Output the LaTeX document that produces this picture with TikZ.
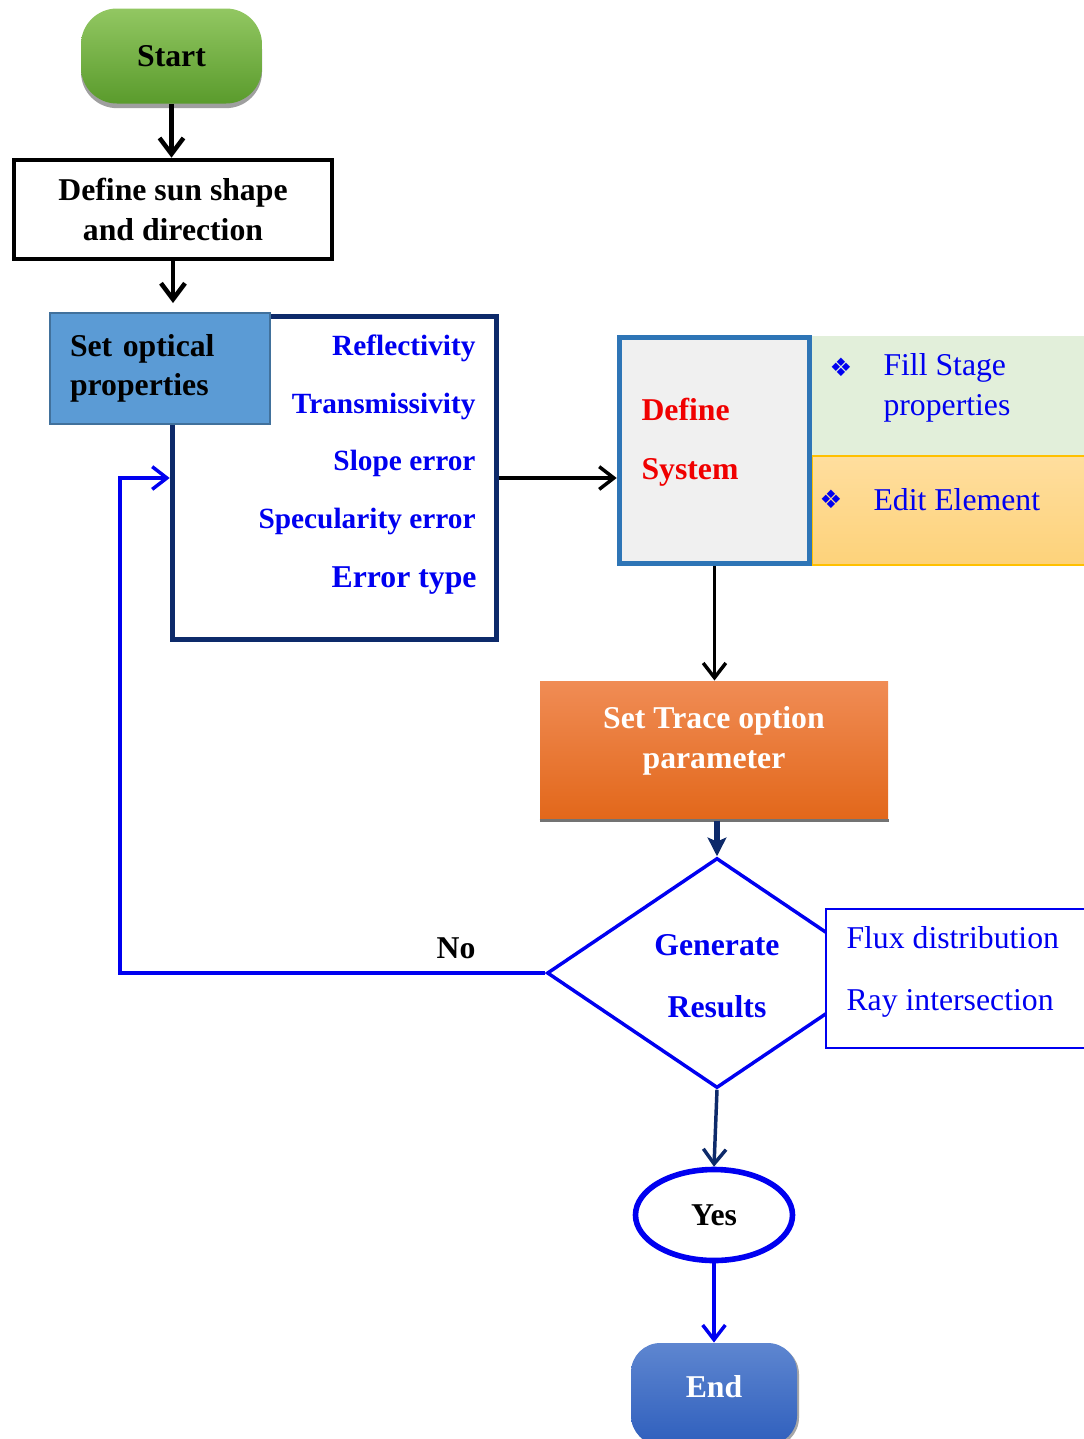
\documentclass[tikz,border=0pt]{standalone}
\usepackage{fontspec}
\setmainfont{Liberation Serif}
\newfontfamily\symfont{DejaVu Sans}
\usetikzlibrary{shapes.geometric,arrows.meta,shadows}

\definecolor{startgreenA}{HTML}{92C762}
\definecolor{startgreenB}{HTML}{5A9B2C}
\definecolor{opticalblue}{HTML}{5B9BD5}
\definecolor{opticaledge}{HTML}{41719C}
\definecolor{navy}{HTML}{0D2A6A}
\definecolor{systemedge}{HTML}{2E75B6}
\definecolor{systemfill}{HTML}{F0F0F0}
\definecolor{panelgreen}{HTML}{E2EFDA}
\definecolor{panelorangeA}{HTML}{FFDE9E}
\definecolor{panelorangeB}{HTML}{FDD27A}
\definecolor{panelgold}{HTML}{FFC000}
\definecolor{traceA}{HTML}{F08C55}
\definecolor{traceM}{HTML}{F27C2C}
\definecolor{traceB}{HTML}{E2671A}
\definecolor{endblueA}{HTML}{5E86D0}
\definecolor{endblueB}{HTML}{2F5FBD}
\definecolor{pureblue}{HTML}{0000F0}
\definecolor{redtext}{HTML}{F00000}

\tikzset{every picture/.style={line width=0.75pt}}

\begin{document}
\begin{tikzpicture}[
    x=0.75pt,
    y=0.75pt,
    yscale=-1,
    xscale=1,
    every node/.style={text=black},
    line width=0.75pt,
    boldtext/.style={font=\bfseries\fontsize{23.8}{29.5}\selectfont},
    itemtext/.style={font=\bfseries\fontsize{22}{27}\selectfont, text=pureblue, inner sep=0pt, anchor=base east},
    plaintext/.style={font=\fontsize{23.8}{29.5}\selectfont, text=pureblue, inner sep=0pt, anchor=base west},
    bulletmark/.style={font=\symfont\fontsize{19}{19}\selectfont, text=pureblue, inner sep=0pt},
    startnode/.style={rectangle, rounded corners=27pt, minimum width=135.75pt, minimum height=71.25pt, top color=startgreenA, bottom color=startgreenB, boldtext, drop shadow={shadow xshift=0pt, shadow yshift=-3.5pt, opacity=1, fill=gray!75}},
    sunbox/.style={rectangle, draw=black, line width=3.4pt, fill=white, minimum width=238.5pt, minimum height=74.25pt, align=center, boldtext},
    listbox/.style={rectangle, draw=navy, line width=4.2pt, fill=white, minimum width=243pt, minimum height=242.25pt},
    opticalbox/.style={rectangle, draw=opticaledge, line width=1.5pt, fill=opticalblue, minimum width=165pt, minimum height=83.25pt, text width=135pt, inner xsep=15pt, align=left, boldtext},
    panel/.style={rectangle, minimum width=208.5pt, inner sep=0pt},
    systembox/.style={rectangle, draw=systemedge, line width=4.2pt, fill=systemfill, minimum width=142.5pt, minimum height=169.5pt},
    redlabel/.style={boldtext, text=redtext, inner sep=0pt, anchor=base west},
    tracebox/.style={rectangle, minimum width=261pt, minimum height=104.25pt, top color=traceA, middle color=traceM, bottom color=traceB},
    decision/.style={diamond, draw=pureblue, line width=2.6pt, fill=white, minimum width=255pt, minimum height=172.5pt, inner sep=0pt},
    bluebold/.style={boldtext, text=pureblue, inner sep=0pt, anchor=base},
    fluxbox/.style={rectangle, draw=pureblue, line width=1.6pt, fill=white, minimum width=198pt, minimum height=104.25pt},
    yesnode/.style={ellipse, draw=pureblue, line width=4.2pt, fill=white, minimum width=117.75pt, minimum height=68.25pt, boldtext},
    endnode/.style={rectangle, rounded corners=22pt, minimum width=124.5pt, minimum height=76.5pt, top color=endblueA, bottom color=endblueB, drop shadow={shadow xshift=1.5pt, shadow yshift=-1.5pt, opacity=1, fill=gray!70}},
    thickarrow/.style={draw=black, line width=3.4pt, -{Straight Barb[length=12pt,width=18pt]}},
    blackarrow/.style={draw=black, line width=2.6pt, -{Straight Barb[length=11pt,width=17pt]}},
    navyarrow/.style={draw=navy, line width=4.2pt, -{Stealth[length=14pt,width=14pt,inset=3pt]}},
    navybarb/.style={draw=navy, line width=2.6pt, -{Straight Barb[length=11pt,width=17pt]}},
    bluearrow/.style={draw=pureblue, line width=2.6pt, -{Straight Barb[length=11pt,width=17pt]}}
]
    \fill[white] (0,0) rectangle (1083,1439);
    \useasboundingbox (0,0) rectangle (1083,1439);

    % start and sun
    \node[startnode] (start) at (171.5,56) {Start};
    \node[sunbox] (sun) at (173,209.5) {Define sun shape\\and direction};

    % optical properties
    \node[listbox] (props) at (334.5,478) {};
    \node[opticalbox] (optical) at (160,368.5) {Set optical\\properties};
    \node[itemtext] (refl) at (476,355) {Reflectivity};
    \node[itemtext] (trans) at (476,413) {Transmissivity};
    \node[itemtext] (slope) at (476,470) {Slope error};
    \node[itemtext] (specul) at (476,528) {Specularity error};
    \node[itemtext, font=\bfseries\fontsize{23.8}{29.5}\selectfont] (errtype) at (477,587) {Error type};

    % define system
    \node[panel, fill=panelgreen, minimum height=90pt] (stagepanel) at (951,396) {};
    \node[panel, top color=panelorangeA, bottom color=panelorangeB, draw=panelgold, line width=1.1pt, minimum height=81.75pt] (elempanel) at (951,510.5) {};
    \node[systembox] (system) at (714.5,450.5) {};
    \node[redlabel] (definetxt) at (641,420) {Define};
    \node[redlabel] (systemtxt) at (641,479) {System};
    \node[bulletmark] (bulletA) at (841,367) {❖};
    \node[bulletmark] (bulletB) at (831,499) {❖};
    \node[plaintext] (filltxt) at (883,375) {Fill Stage};
    \node[plaintext] (proptxt) at (883,415) {properties};
    \node[plaintext] (edittxt) at (873,510) {Edit Element};

    % trace
    \node[tracebox] (trace) at (714,750.5) {};
    \draw[gray!90!black, line width=2.25pt] (trace.south west) -- (trace.south east);
    \node[boldtext, text=white, align=center, inner sep=0pt] (tracetxt) at (714,741) {Set Trace option\\parameter};

    % results
    \node[decision] (decide) at (717,973) {};
    \node[bluebold] (gentxt) at (717,955) {Generate};
    \node[bluebold] (restxt) at (717,1017) {Results};
    \node[fluxbox] (flux) at (958,978.5) {};
    \node[plaintext] (fluxtxt) at (846,948) {Flux distribution};
    \node[plaintext] (raytxt) at (846,1010) {Ray intersection};
    \node[boldtext, inner sep=0pt, anchor=base] (notxt) at (456,958) {No};

    \node[yesnode] (yes) at (714,1215) {Yes};
    \node[endnode] (finish) at (714,1394) {};
    \node[boldtext, text=white, inner sep=0pt, anchor=base] (endtxt) at (714,1397) {End};

    % connectors
    \draw[thickarrow] (start.south) -- (start.south |- sun.north);
    \draw[thickarrow, shorten >=6.75pt] (sun.south) -- (sun.south |- optical.north);
    \draw[blackarrow] (props.east) -- (props.east -| system.west);
    \draw[blackarrow] (system.south) -- (system.south |- trace.north);
    \draw[navyarrow] (decide.north |- trace.south) -- (decide.north);
    \draw[navybarb] (decide.south) -- (yes.north);
    \draw[bluearrow] (yes.south) -- (yes.south |- finish.north);
    \coordinate (loopturn) at (120,973);
    \draw[bluearrow] (decide.west) -- (loopturn) |- (props.west);
\end{tikzpicture}
\end{document}
